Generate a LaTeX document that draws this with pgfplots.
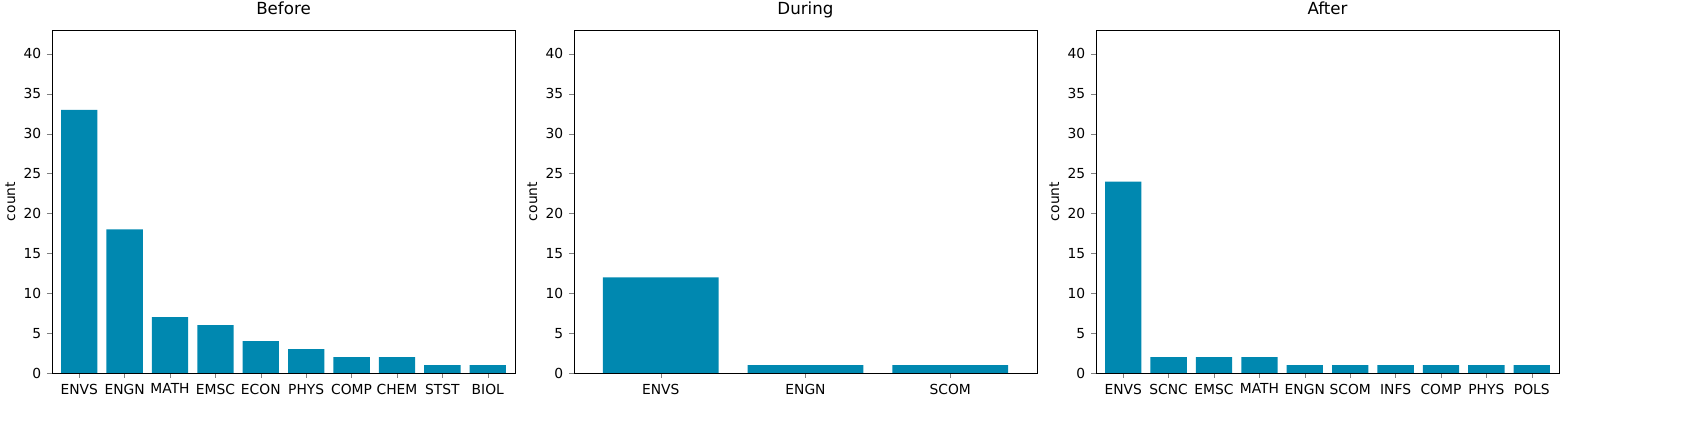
\documentclass[border=0pt]{standalone}
\usepackage{pgfplots}
\pgfplotsset{compat=1.18}
\usepackage{fontspec}
\setmainfont{DejaVu Sans}
\definecolor{barc}{HTML}{0088B0}
\pgfplotsset{
  panel/.style={
    width=277.8pt, height=205.8pt, scale only axis,
    ymin=0, ymax=43, ytick={0,5,...,40},
    ybar, bar width=0.8, bar shift=0pt,
    xtick=data, tick align=outside,
    xtick pos=bottom, ytick pos=left,
    major tick length=3pt,
    ylabel={count}, ylabel style={yshift=-2pt},
    tick label style={font=\fontsize{8.3}{10}\selectfont},
    label style={font=\fontsize{8.3}{10}\selectfont},
    title style={font=\fontsize{10}{12}\selectfont, text height=0.75em, text depth=0.25em, yshift=-3pt},
    /pgf/number format/assume math mode=true,
    enlarge x limits=false,
  }
}
\begin{document}
\begin{tikzpicture}
\path[use as bounding box] (-31.2pt,-37.2pt) rectangle (980.4pt,223.8pt);
\begin{axis}[panel, at={(0,0)}, anchor=south west, title={Before},
  xmin=-0.6, xmax=9.6,
  xticklabels={ENVS,ENGN,MATH,EMSC,ECON,PHYS,COMP,CHEM,STST,BIOL}]
\addplot[fill=barc, draw=none] coordinates {(0,33)(1,18)(2,7)(3,6)(4,4)(5,3)(6,2)(7,2)(8,1)(9,1)};
\end{axis}
\begin{axis}[panel, at={(313.2pt,0)}, anchor=south west, title={During},
  xmin=-0.6, xmax=2.6,
  xticklabels={ENVS,ENGN,SCOM}]
\addplot[fill=barc, draw=none] coordinates {(0,12)(1,1)(2,1)};
\end{axis}
\begin{axis}[panel, at={(626.4pt,0)}, anchor=south west, title={After},
  xmin=-0.6, xmax=9.6,
  xticklabels={ENVS,SCNC,EMSC,MATH,ENGN,SCOM,INFS,COMP,PHYS,POLS}]
\addplot[fill=barc, draw=none] coordinates {(0,24)(1,2)(2,2)(3,2)(4,1)(5,1)(6,1)(7,1)(8,1)(9,1)};
\end{axis}
\end{tikzpicture}
\end{document}
